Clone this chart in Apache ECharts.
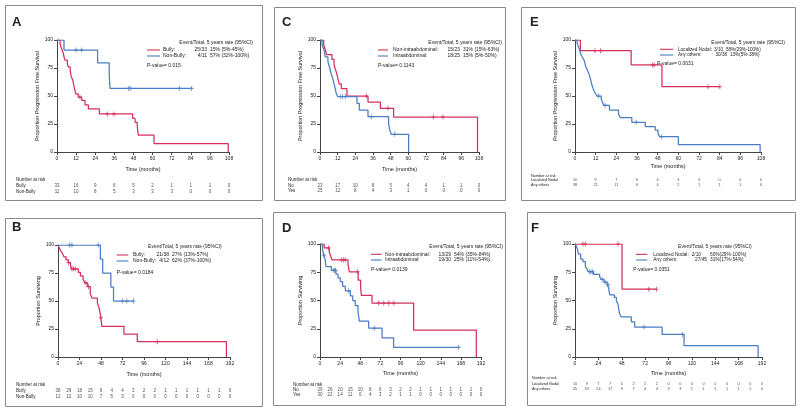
<!DOCTYPE html>
<html><head><meta charset="utf-8">
<script src="https://cdn.jsdelivr.net/npm/echarts/dist/echarts.min.js"></script>
<style>html,body{margin:0;padding:0;background:#fff}#c{width:800px;height:412px}</style>
</head><body><div id="c"></div>
<script>
// ---------- DATA ----------
const riskTimesPFS = [0,12,24,36,48,60,72,84,96,108];
const riskTimesOS = [0,12,24,36,48,60,72,84,96,108,120,132,144,156,168,180,192];

// Panel A (PFS, Bulky)
const aBully = [[0,100],[1.9,97],[2.4,94],[3.2,91],[4,88],[4.4,85],[5,82],[6.5,79],[7,76],[8.3,73],[8.6,70],[9,67],[10,64],[10.3,61],[10.8,58],[11.3,55],[11.7,52],[13.3,49],[15.5,46],[17.6,42],[19.7,38.4],[26.6,34],[47.5,30],[49,26.5],[50.4,22.6],[51,15],[60.9,7.5],[107.5,0]];
const aBullyCens = [[14.4,49],[31.6,34],[35.8,34]];
const aNonBully = [[0,100],[4.4,91],[25.5,79.5],[32.8,68],[33.3,56.8],[84.5,56.8]];
const aNonBullyCens = [[12,91],[15.5,91],[45,56.8],[46,56.8],[76.8,56.8],[84.5,56.8]];
const aRisk1 = [33,16,9,6,5,2,1,1,1,0];
const aRisk2 = [11,10,8,5,3,3,3,0,0,0];

// Panel C (PFS, Intraabdominal)
const cNonIntra = [[0,100],[2.5,95.7],[3.6,91.3],[4.5,87],[8.1,82.6],[9.5,78.3],[10.4,74],[11.5,69.6],[12.2,65.2],[13,60.9],[14.5,56.5],[18.3,50],[32.6,44.6],[41,39],[50,31.2],[107,0]];
const cNonIntraCens = [[31.5,50],[46.2,39],[77,31.2],[83.5,31.2]];
const cIntra = [[0,100],[1.4,96],[2.5,92],[3.6,85],[5.4,80.6],[6.2,77],[7,73],[7.8,69],[8.6,66],[9.7,60],[10.3,57],[10.9,53],[12,49.5],[25.1,43.5],[26.7,37.5],[32.6,31.5],[46.6,25.6],[47.2,20.5],[48.4,15.8],[60.2,0]];
const cIntraCens = [[13.8,49.5],[15.4,49.5],[17.2,49.5],[34.8,31.5],[50.7,15.8]];
const cRisk1 = [23,17,10,8,5,4,4,1,1,0];
const cRisk2 = [25,12,8,4,3,1,0,0,0,0];

// Panel E (PFS, Localized nodal)
const eLocal = [[0,100],[3.1,90.5],[32.6,77.7],[50.5,58.3],[84.1,58.3]];
const eLocalCens = [[11.6,90.5],[14.8,90.5],[45,77.7],[46,77.7],[77.3,58.3],[84.1,58.3]];
const eOthers = [[0,100],[1.2,97.4],[1.8,94.7],[2.5,92],[3,89.5],[3.5,86.8],[4.5,84.2],[5.4,81.6],[5.8,79],[6.2,76.3],[7,73.7],[7.8,71],[8.4,68.4],[8.9,65.8],[9.3,63.2],[9.7,60.5],[10.3,57.9],[10.8,55.3],[11.7,52.6],[12.8,50],[15.2,47.2],[16,44.5],[16.7,41.6],[20,37.5],[25.3,33.6],[26.4,30.6],[33,26.5],[40.8,22.6],[46.6,19.6],[48.2,16.4],[49.1,13.7],[60,6.5],[107.5,0]];
const eOthersCens = [[13.6,50],[17.5,41.6],[35.5,26.5],[50.1,13.7]];
const eRisk1 = [10,9,7,6,4,3,3,0,0,0];
const eRisk2 = [38,21,11,6,4,2,1,1,1,0];

// Panel B (OS, Bulky)
const bBully = [[0,100],[1.5,97.4],[3,94.7],[5.2,92.1],[6.7,89.5],[9,86.8],[11.5,84.2],[14,81.5],[15,78.7],[22.7,75.6],[25,72.5],[28,69.4],[30,66.2],[32.7,62.9],[36,56.6],[38,52.5],[44,48.2],[45.8,43.9],[47,39.5],[47.8,35],[49,27.4],[73.6,20.5],[88.5,13.7],[188,0]];
const bBullyCens = [[11.7,84.2],[15.6,78.7],[17.4,78.7],[19.3,78.7],[31,66.2],[34,62.9],[48,35],[110.8,13.7]];
const bNonBully = [[0,100],[47.3,87.5],[49.9,75],[59,62.5],[62,50],[84.2,50]];
const bNonBullyCens = [[12.9,100],[15.5,100],[45,100],[72,50],[76.8,50],[84.2,50]];
const bRisk1 = [38,29,18,15,6,4,4,3,2,2,1,1,1,1,1,1,0];
const bRisk2 = [12,12,10,10,7,5,3,0,0,0,0,0,0,0,0,0,0];

// Panel D (OS, Intraabdominal)
const dNonIntra = [[0,100],[5,96.6],[11,93.1],[12.5,89.6],[14.3,86],[33.4,82],[35,75.4],[45.5,68],[48.5,61],[49.3,54.5],[62,47.7],[111.7,23.8],[186.4,0]];
const dNonIntraCens = [[10.3,96.6],[25.4,86],[28,86],[30,86],[44.9,75.4],[70,47.7],[76,47.7],[82,47.7],[88,47.7]];
const dIntra = [[0,100],[3,96.7],[3.5,93.3],[4.4,90],[6,86.7],[7.2,80],[13.5,76.7],[19,73.3],[21.5,70],[24.2,66.7],[27,62.6],[30.2,58.6],[36.2,54],[39,50],[42,45.5],[45.3,40.9],[46,36.4],[47,31.8],[58,25.5],[74,17],[87.8,8.5],[165.3,8.5]];
const dIntraCens = [[4.8,90],[16,76.7],[17.5,76.7],[18.5,76.7],[34.2,58.6],[64.8,25.5],[165.3,8.5]];
const dRisk1 = [29,26,20,15,10,8,6,3,2,2,1,1,1,1,1,1,0];
const dRisk2 = [30,22,14,11,6,4,3,2,1,1,0,0,0,0,0,0,0];

// Panel F (OS, Localized nodal)
const fLocal = [[0,100],[48.3,60],[83.6,60]];
const fLocalCens = [[8.2,100],[10.6,100],[44.2,100],[75.7,60],[83.6,60]];
const fOthers = [[0,100],[1.5,97.8],[2.5,95.6],[3.5,91.1],[5.8,86.7],[8.2,84.4],[10.6,80],[12.5,77.8],[13.4,75.5],[19,73.2],[25.3,70.9],[27,68.6],[29.8,66.2],[33.2,63.8],[34.5,61.3],[35.6,55],[40.4,52.7],[42.5,49.7],[44.2,46.7],[45,42],[45.9,38],[47.6,35.4],[57.9,31],[61.3,26.5],[89.4,20],[112,10],[188,0]];
const fOthersCens = [[15,75.5],[16.5,75.5],[18,75.5],[28,68.6],[31,66.2],[34,63.8],[70.9,26.5],[110.5,20]];
const fRisk1 = [10,9,7,7,5,2,2,2,0,0,0,0,0,0,0,0,0];
const fRisk2 = [45,34,24,17,9,7,4,4,3,3,1,1,1,1,1,1,0];

// Text
const legendHeader = 'Event/Total, 5 years rate (95%CI)';
const aNames = ['Bully:','Non-Bully:'], aFrac = ['25/33','4/11'], aRate = ['15% (5%-45%)','57% (32%-100%)'], aP = 'P-value= 0.015';
const cNames = ['Non-intraabdominal:','Intraabdominal:'], cFrac = ['15/23','18/25'], cRate = ['31% (15%-63%)','15% (5%-50%)'], cP = 'P-value= 0.1143';
const eNames = ['Localized Nodal:','Any others:'], eFrac = ['3/10','30/38'], eRate = ['58%(29%-100%)','13%(5%-38%)'], eP = 'P-value= 0.0031';
const bNames = ['Bully:','Non-Bully:'], bFrac = ['21/38','4/12'], bRate = ['27% (13%-57%)','62% (37%-100%)'], bP = 'P-value= 0.0184';
const dNames = ['Non-intraabdominal:','Intraabdominal:'], dFrac = ['13/29','19/30'], dRate = ['54% (35%-84%)','25% (11%-54%)'], dP = 'P-value= 0.0139';
const fNames = ['Localized Nodal:','Any others:'], fFrac = ['2/10','27/45'], fRate = ['60%(29%-100%)','31%(17%-54%)'], fP = 'P-value= 0.0351';
const aRows = ['Bully','Non-Bully'], cRows = ['No','Yes'], eRows = ['Localized Nodal','Any others'];
const bRows = ['Bully','Non-Bully'], dRows = ['No','Yes'], fRows = ['Localized Nodal','Any others'];
const yTitlePFS = 'Proportion Progression Free Survival';
const yTitleOS = 'Proportion Surviving';
const xTitle = 'Time (months)';

// ---------- LAYOUT ----------
const RED = '#d3305c', BLUE = '#4a7dc4', INK = '#222', AX = '#444';
const FONT = '"Liberation Sans", Arial, sans-serif';

const panels = [
 {L:'A', box:[5,5,257,195], lp:[12,22], plot:[57,40,172,112], xmax:108, xstep:12, yt:yTitlePFS,
  curves:[aBully,aNonBully], cens:[aBullyCens,aNonBullyCens], risk:[aRisk1,aRisk2], rt:riskTimesPFS, rows:aRows,
  names:aNames, frac:aFrac, rate:aRate, p:aP,
  leg:{hx:253,hy:42.5,lx:[147,160],ly:[50,56],nx:163,fr:[207,207],rl:[210,210],px:147,py:66,fs:5},
  rk:{ty:180,ry:[185.7,191.7],lx:16,fs:4.5}, xg:14, yg:14},
 {L:'C', box:[274,7,231,193], lp:[282,22], plot:[320,40,159,112], xmax:108, xstep:12, yt:yTitlePFS,
  curves:[cNonIntra,cIntra], cens:[cNonIntraCens,cIntraCens], risk:[cRisk1,cRisk2], rt:riskTimesPFS, rows:cRows,
  names:cNames, frac:cFrac, rate:cRate, p:cP,
  leg:{hx:502,hy:42.3,lx:[378,388],ly:[50,56],nx:393,fr:[460,460],rl:[463,463],px:378,py:66,fs:5},
  rk:{ty:180,ry:[185.3,191],lx:288,fs:4.5}, xg:14, yg:14},
 {L:'E', box:[521,7,274,193], lp:[530,22], plot:[575,40,186,112], xmax:108, xstep:12, yt:yTitlePFS,
  curves:[eLocal,eOthers], cens:[eLocalCens,eOthersCens], risk:[eRisk1,eRisk2], rt:riskTimesPFS, rows:eRows,
  names:eNames, frac:eFrac, rate:eRate, p:eP,
  leg:{hx:785,hy:42.7,lx:[660,673],ly:[49.3,55],nx:678,fr:[723,727],rl:[726,730],px:657,py:63.5,fs:4.6},
  rk:{ty:175.7,ry:[180.2,184.5],lx:531,fs:3.8}, xg:11, yg:14},
 {L:'B', box:[5,218,257,188], lp:[12,227], plot:[58,245,172,112], xmax:192, xstep:24, yt:yTitleOS,
  curves:[bBully,bNonBully], cens:[bBullyCens,bNonBullyCens], risk:[bRisk1,bRisk2], rt:riskTimesOS, rows:bRows,
  names:bNames, frac:bFrac, rate:bRate, p:bP,
  leg:{hx:221.7,hy:246.7,lx:[116.7,128.3],ly:[255,261],nx:133,fr:[169,169],rl:[172,172],px:116.7,py:273,fs:5},
  rk:{ty:385,ry:[390.7,396.7],lx:16,fs:4.5}, xg:14, yg:14},
 {L:'D', box:[273,212,232,193], lp:[282,228], plot:[320,244,161,113], xmax:192, xstep:24, yt:yTitleOS,
  curves:[dNonIntra,dIntra], cens:[dNonIntraCens,dIntraCens], risk:[dRisk1,dRisk2], rt:riskTimesOS, rows:dRows,
  names:dNames, frac:dFrac, rate:dRate, p:dP,
  leg:{hx:503,hy:246.7,lx:[371,381.7],ly:[254.3,260],nx:385,fr:[451,451],rl:[454,454],px:371,py:270,fs:5},
  rk:{ty:384.3,ry:[389.3,394.3],lx:293,fs:4.5}, xg:13, yg:14},
 {L:'F', box:[527,212,268,193], lp:[531,228], plot:[575,244,187,113], xmax:192, xstep:24, yt:yTitleOS,
  curves:[fLocal,fOthers], cens:[fLocalCens,fOthersCens], risk:[fRisk1,fRisk2], rt:riskTimesOS, rows:fRows,
  names:fNames, frac:fFrac, rate:fRate, p:fP,
  leg:{hx:751.7,hy:246.7,lx:[636,647.3],ly:[254.3,260],nx:653.3,fr:[701,707],rl:[710,710],px:633.3,py:269.3,fs:4.8},
  rk:{ty:378.3,ry:[384,389],lx:532,fs:3.8}, xg:13, yg:14}
];

const grid = [], xAxis = [], yAxis = [], series = [], graphic = [];
const colors = [RED, BLUE];
function txt(x, y, s, size, align, weight) {
  return {type:'text', x:x, y:y, silent:true, z:10,
    style:{text:s, font:(weight||'normal')+' '+size+'px '+FONT, fill:INK, textAlign:align||'left', textVerticalAlign:'middle', verticalAlign:'middle'}};
}
panels.forEach((p, i) => {
  const g = 2*i, r = 2*i+1;
  const [L,T,W,H] = p.plot;
  grid.push({left:L, top:T, width:W, height:H});
  grid.push({left:L, top:p.rk.ry[0], width:W, height:p.rk.ry[1]-p.rk.ry[0]});
  xAxis.push({gridIndex:g, type:'value', min:0, max:p.xmax, interval:p.xstep,
    name:xTitle, nameLocation:'middle', nameGap:p.xg, nameTextStyle:{fontSize:5.5, color:INK, fontFamily:FONT},
    axisLine:{show:true, onZero:false, lineStyle:{color:AX, width:1}},
    axisTick:{show:true, length:3, lineStyle:{color:AX}},
    axisLabel:{fontSize:5, color:INK, margin:4, fontFamily:FONT}, splitLine:{show:false}});
  yAxis.push({gridIndex:g, type:'value', min:0, max:100, interval:25,
    name:p.yt, nameLocation:'middle', nameGap:p.yg, nameTextStyle:{fontSize:5.5, color:INK, fontFamily:FONT},
    axisLine:{show:true, onZero:false, lineStyle:{color:AX, width:1}},
    axisTick:{show:true, length:3, lineStyle:{color:AX}},
    axisLabel:{fontSize:5, color:INK, margin:4, fontFamily:FONT}, splitLine:{show:false}});
  xAxis.push({gridIndex:r, type:'value', min:0, max:p.xmax, show:false});
  yAxis.push({gridIndex:r, type:'value', min:0, max:1, show:false});
  p.curves.forEach((c, k) => {
    series.push({type:'line', xAxisIndex:g, yAxisIndex:g, data:c, step:'end', showSymbol:false, symbol:'none',
      lineStyle:{color:colors[k], width:1.25}, itemStyle:{color:colors[k]}, silent:true, z:3+k});
    series.push({type:'scatter', xAxisIndex:g, yAxisIndex:g, data:p.cens[k], symbol:'path://M5,0L5,10M0,5L10,5',
      symbolSize:[4,5], itemStyle:{color:'rgba(0,0,0,0)', borderColor:colors[k], borderWidth:1}, silent:true, z:5});
  });
  p.risk.forEach((arr, k) => {
    series.push({type:'scatter', xAxisIndex:r, yAxisIndex:r, symbolSize:1,
      data:p.rt.map((t, j) => [t, 1-k, arr[j]]),
      itemStyle:{color:'rgba(0,0,0,0)'}, silent:true,
      label:{show:true, position:'inside', formatter:(q) => String(q.value[2]), fontSize:p.rk.fs, color:INK, fontFamily:FONT}});
  });
  // border & letter
  graphic.push({type:'rect', shape:{x:p.box[0]+0.5, y:p.box[1]+0.5, width:p.box[2], height:p.box[3]}, style:{fill:'none', stroke:'#8a8a8a', lineWidth:1}, silent:true});
  graphic.push(txt(p.lp[0], p.lp[1], p.L, 13, 'left', 'bold'));
  // legend
  const lg = p.leg;
  graphic.push(txt(lg.hx, lg.hy, legendHeader, 5, 'right'));
  for (let k = 0; k < 2; k++) {
    graphic.push({type:'line', shape:{x1:lg.lx[0], y1:lg.ly[k], x2:lg.lx[1], y2:lg.ly[k]}, style:{stroke:colors[k], lineWidth:1.1}, silent:true});
    graphic.push(txt(lg.nx, lg.ly[k], p.names[k], lg.fs, 'left'));
    graphic.push(txt(lg.fr[k], lg.ly[k], p.frac[k], lg.fs, 'right'));
    graphic.push(txt(lg.rl[k], lg.ly[k], p.rate[k], lg.fs, 'left'));
  }
  graphic.push(txt(lg.px, lg.py, p.p, 5, 'left'));
  // risk table labels
  graphic.push(txt(p.rk.lx, p.rk.ty, 'Number at risk', p.rk.fs, 'left'));
  graphic.push(txt(p.rk.lx, p.rk.ry[0], p.rows[0], p.rk.fs, 'left'));
  graphic.push(txt(p.rk.lx, p.rk.ry[1], p.rows[1], p.rk.fs, 'left'));
});

const chart = echarts.init(document.getElementById('c'), null, {renderer:'canvas'});
chart.setOption({animation:false, backgroundColor:'#fff', textStyle:{fontFamily:FONT},
  grid, xAxis, yAxis, series, graphic});
</script></body></html>
